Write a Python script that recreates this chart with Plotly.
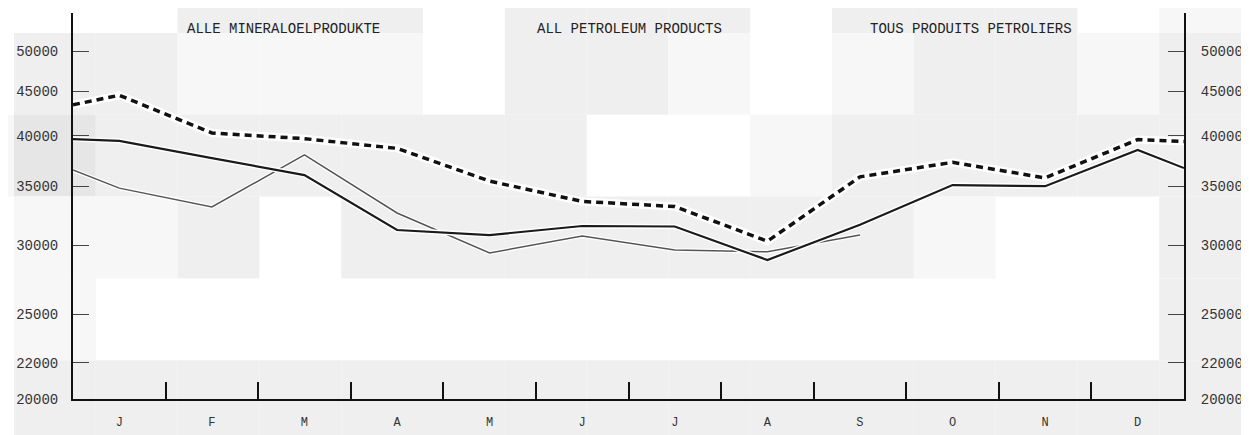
import math
import plotly.graph_objects as go

# ---------------- data ----------------
months = ["J", "F", "M", "A", "M", "J", "J", "A", "S", "O", "N", "D"]
y_ticks = [20000, 22000, 25000, 30000, 35000, 40000, 45000, 50000]
titles = ["ALLE MINERALOELPRODUKTE", "ALL PETROLEUM PRODUCTS", "TOUS PRODUITS PETROLIERS"]

# value at left axis edge, J..D, value at right axis edge
dashed_series = [43400, 44500, 40300, 39700, 38700, 35500, 33650, 33200, 30300,
                 35900, 37300, 35800, 39600, 39400]
solid_series = [39660, 39460, 37720, 36070, 31210, 30800, 31540, 31500, 28840,
                31650, 35130, 35030, 38530, 36740]
# left edge, J..S
thin_series = [36550, 34850, 33160, 38030, 32640, 29380, 30720, 29610, 29470, 30800]

# ---------------- geometry / style ----------------
W, H = 1249, 435           # screenshot size
OFF = 8                    # default page (body) margin around the figure
PL, PR, PT, PB = 73, 1184, 13, 399          # plot area in screen pixels
Y_MIN, Y_MAX = 20000, 55270

xpos = [0] + [i + 0.5 for i in range(12)] + [12]

FONT = "Liberation Mono"
INK = "#111111"

fig = go.Figure()

def add_series(vals, color, width, dash, halo):
    xs = xpos[:len(vals)]
    fig.add_trace(go.Scatter(x=xs, y=vals, mode="lines", hoverinfo="skip",
                             line=dict(color="white", width=halo), showlegend=False))
    fig.add_trace(go.Scatter(x=xs, y=vals, mode="lines",
                             line=dict(color=color, width=width, dash=dash),
                             showlegend=False))

add_series(thin_series, "#555555", 1.5, "solid", 4)
add_series(solid_series, "#1a1a1a", 2.2, "solid", 5)
add_series(dashed_series, INK, 3.5, "7px,5px", 8)

# helper traces so the secondary axes are drawn
fig.add_trace(go.Scatter(x=[0, 12], y=[Y_MIN, Y_MAX], xaxis="x2", yaxis="y",
                         mode="markers", marker=dict(opacity=0), hoverinfo="skip",
                         showlegend=False))
fig.add_trace(go.Scatter(x=[0, 12], y=[Y_MIN, Y_MAX], xaxis="x", yaxis="y2",
                         mode="markers", marker=dict(opacity=0), hoverinfo="skip",
                         showlegend=False))

# ---------------- scanned-paper background blocks ----------------
x_edges = [0, 14, 95.8, 177.6, 259.4, 341.2, 423, 504.8, 586.6, 668.4, 750.2,
           832, 913.8, 995.6, 1077.4, 1159.2, 1249]
y_edges = [0, 33, 114.8, 196.6, 278.4, 360.2, 435]
shade_rows = [
    "WWWGGGWGGGWGGGWL",
    "WGGLLLWGGLWLGGLG",
    "LDGGGGGGWWLGGGGG",
    "WLLGWGGGGGGGLWWG",
    "WLWWWWWWWWWWWWWG",
    "WGGGGGGGGGGGGGGG",
]
shade_col = {"W": "#ffffff", "L": "#f7f7f7", "G": "#efefef", "D": "#e6e6e6"}

def px2x(px):
    return (px - PL) / (PR - PL)

def py2y(py):
    return (PB - py) / (PB - PT)

shapes = []
for r, row in enumerate(shade_rows):
    for c, ch in enumerate(row):
        if ch == "W":
            continue
        shapes.append(dict(type="rect", xref="paper", yref="paper", layer="below",
                           x0=px2x(max(x_edges[c], OFF)), x1=px2x(x_edges[c + 1]),
                           y0=py2y(y_edges[r + 1]), y1=py2y(max(y_edges[r], OFF)),
                           line=dict(width=0), fillcolor=shade_col[ch]))

# ---------------- titles ----------------
title_px = [283, 629, 971]
annotations = [dict(text=t, x=px2x(p), y=py2y(29), xref="paper", yref="paper",
                    showarrow=False, xanchor="center", yanchor="middle",
                    font=dict(family=FONT, size=14, color="#222222"))
               for t, p in zip(titles, title_px)]

yrange = [math.log10(Y_MIN), math.log10(Y_MAX)]
ytext = [str(v) for v in y_ticks]
yfont = dict(family=FONT, size=14, color="#333333")

fig.update_layout(
    width=W - OFF, height=H - OFF, autosize=False,
    margin=dict(l=PL - OFF, r=W - PR, t=PT - OFF, b=H - PB, pad=0),
    paper_bgcolor="white", plot_bgcolor="rgba(0,0,0,0)",
    showlegend=False, shapes=shapes, annotations=annotations,
    xaxis=dict(range=[0, 12], tickvals=list(range(1, 12)), ticktext=[""] * 11,
               ticks="inside", ticklen=17, tickwidth=2, tickcolor=INK,
               showline=True, linewidth=2, linecolor=INK, showgrid=False,
               zeroline=False, fixedrange=True, automargin=False),
    xaxis2=dict(range=[0, 12], overlaying="x", anchor="y", side="bottom",
                tickvals=[i + 0.5 for i in range(12)], ticktext=months,
                ticks="", showline=False, showgrid=False, zeroline=False,
                tickfont=dict(family=FONT, size=12, color="#333333"),
                ticklabelstandoff=14, automargin=False),
    yaxis=dict(type="log", range=yrange, tickvals=y_ticks, ticktext=ytext,
               ticks="inside", ticklen=16, tickwidth=1, tickcolor="#444444",
               showline=True, linewidth=2, linecolor=INK, showgrid=False,
               zeroline=False, tickfont=yfont, ticklabelstandoff=10,
               automargin=False),
    yaxis2=dict(type="log", range=yrange, tickvals=y_ticks, ticktext=ytext,
                overlaying="y", side="right", anchor="x",
                ticks="inside", ticklen=16, tickwidth=1, tickcolor="#444444",
                showline=True, linewidth=2, linecolor=INK, showgrid=False,
                zeroline=False, tickfont=yfont, ticklabelstandoff=12,
                automargin=False),
)

fig.write_html("out.html")
